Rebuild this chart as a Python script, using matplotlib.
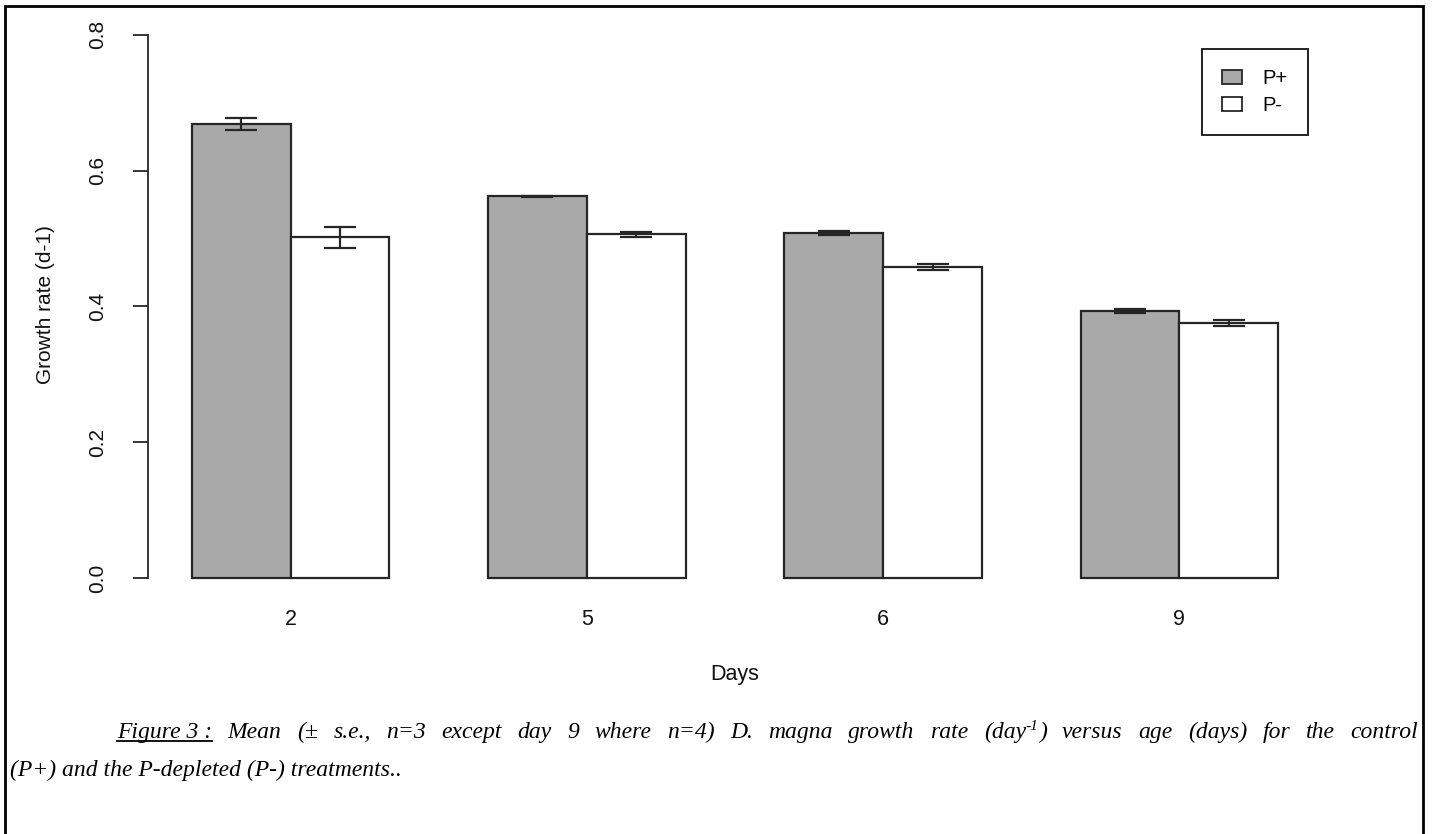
import matplotlib
matplotlib.use('Agg')
import matplotlib.pyplot as plt
from matplotlib.patches import Rectangle, Patch
from matplotlib.lines import Line2D
import numpy as np

# ---------------- data ----------------
days = ['2', '5', '6', '9']
series_labels = ['P+', 'P-']
p_plus = [0.668, 0.562, 0.508, 0.393]
p_minus = [0.502, 0.506, 0.458, 0.375]
se_plus = [0.0087, 0.0010, 0.0030, 0.0033]
se_minus = [0.0155, 0.0040, 0.0044, 0.0044]
yticks = [0.0, 0.2, 0.4, 0.6, 0.8]
ytick_labels = ['0.0', '0.2', '0.4', '0.6', '0.8']
xlabel = 'Days'
ylabel = 'Growth rate (d-1)'

W, H = 1432, 834
SANS = ['Liberation Sans', 'DejaVu Sans']
SERIF = ['Liberation Serif', 'DejaVu Serif']
EDGE = '#262626'

fig = plt.figure(figsize=(W / 100, H / 100), dpi=100)
fig.patch.set_facecolor('white')


def px(x, y):
    return x / W, 1 - y / H


ax = fig.add_axes([148.4 / W, 1 - 599.7 / H, 1173.2 / W, 586.7 / H])

n = len(days)
group_start = np.arange(n) * 3 + 1  # R barplot(beside=TRUE) layout: space=c(0,1)
x_plus = group_start + 0.5
x_minus = group_start + 1.5

ax.bar(x_plus, p_plus, width=1, color='#A9A9A9', edgecolor=EDGE, linewidth=1.6,
       label=series_labels[0], zorder=2)
ax.bar(x_minus, p_minus, width=1, color='white', edgecolor=EDGE, linewidth=1.6,
       label=series_labels[1], zorder=2)
ax.errorbar(x_plus, p_plus, yerr=se_plus, fmt='none', ecolor=EDGE, elinewidth=1.6,
            capsize=11.5, capthick=1.6, zorder=3)
ax.errorbar(x_minus, p_minus, yerr=se_minus, fmt='none', ecolor=EDGE, elinewidth=1.6,
            capsize=11.5, capthick=1.6, zorder=3)

ax.set_xlim(0.56, 12.44)
ax.set_ylim(-0.032, 0.832)

for s in ['top', 'right', 'bottom']:
    ax.spines[s].set_visible(False)
ax.spines['left'].set_bounds(0, 0.8)
ax.spines['left'].set_linewidth(1.3)
ax.spines['left'].set_color(EDGE)

ax.set_yticks(yticks)
ax.set_yticklabels(ytick_labels, rotation=90, va='center', fontfamily=SANS,
                   fontsize=15, color='#111111')
ax.tick_params(axis='y', length=11, width=1.3, color=EDGE, pad=19)

ax.set_xticks(group_start + 1)
ax.set_xticklabels(days, fontfamily=SANS, fontsize=15.5, color='#111111')
ax.tick_params(axis='x', length=0, pad=7)

ax.set_xlabel(xlabel, fontfamily=SANS, fontsize=15.5, color='#111111')
ax.xaxis.set_label_coords(0.5, -0.128)
ax.xaxis.label.set_va('center')
ax.set_ylabel(ylabel, fontfamily=SANS, fontsize=15, color='#111111')
ax.yaxis.set_label_coords((46 - 148.4) / 1173.2, (599.7 - 305) / 586.7)
ax.yaxis.label.set_va('center')

handles = [Patch(facecolor='#A9A9A9', edgecolor=EDGE, linewidth=1.3),
           Patch(facecolor='white', edgecolor=EDGE, linewidth=1.3)]
leg = ax.legend(handles, series_labels, loc='upper left',
                bbox_to_anchor=px(1202, 49), bbox_transform=fig.transFigure,
                borderaxespad=0, prop={'family': SANS, 'size': 14.5},
                handlelength=1.0, handleheight=0.7, handletextpad=1.0,
                labelspacing=0.38, borderpad=1.0, fancybox=False,
                framealpha=1, edgecolor='#111111')
leg.get_frame().set_linewidth(1.3)

# outer frame of the figure box
fig.patches.append(Rectangle((5 / W, -0.02), (1423 - 5) / W, (834 - 6) / H + 0.02,
                             transform=fig.transFigure, fill=False,
                             edgecolor='black', linewidth=2, clip_on=False))

# ---------------- caption (justified first line, as in the Word document) ----------------
renderer = fig.canvas.get_renderer()
cap_size = 17


def put(xpix, ypix, s, size=cap_size):
    t = fig.text(*px(xpix, ypix), s, fontfamily=SERIF, fontstyle='italic',
                 fontsize=size, ha='left', va='baseline', color='black')
    bb = t.get_window_extent(renderer)
    return t, bb


def width_of(s, size=cap_size):
    t = fig.text(0, 0, s, fontfamily=SERIF, fontstyle='italic', fontsize=size)
    w = t.get_window_extent(renderer).width
    t.remove()
    return w


# words of line 1; each word is a list of (text, is_superscript) pieces
line1 = [[('Mean', False)], [('(\u00b1', False)], [('s.e.,', False)], [('n=3', False)],
         [('except', False)], [('day', False)], [('9', False)], [('where', False)],
         [('n=4)', False)], [('D.', False)], [('magna', False)], [('growth', False)],
         [('rate', False)], [('(day', False), ('-1', True), (')', False)],
         [('versus', False)], [('age', False)], [('(days)', False)], [('for', False)],
         [('the', False)], [('control', False)]]
sup_size = cap_size * 0.65

base1 = 738
x_start, x_end = 117, 1418

# underlined lead "Figure 3 :"
t, bb = put(x_start, base1, 'Figure 3 :')
fig.add_artist(Line2D([bb.x0 / W, bb.x1 / W], [1 - (base1 + 3) / H] * 2,
                      transform=fig.transFigure, color='black', linewidth=1.3))
lead_end = bb.x1

word_w = []
for word in line1:
    word_w.append(sum(width_of(s, sup_size if sup else cap_size) for s, sup in word))
gap = (x_end - lead_end - sum(word_w)) / len(line1)

xc = lead_end + gap
for word, ww in zip(line1, word_w):
    xx = xc
    for s, sup in word:
        if sup:
            _, b = put(xx, base1 - 8, s, size=sup_size)
        else:
            _, b = put(xx, base1, s)
        xx = b.x1
    xc = xc + ww + gap

base2 = 776
put(10, base2, '(P+) and the P-depleted (P-) treatments..')

fig.savefig('out.png', dpi=100, facecolor='white')
